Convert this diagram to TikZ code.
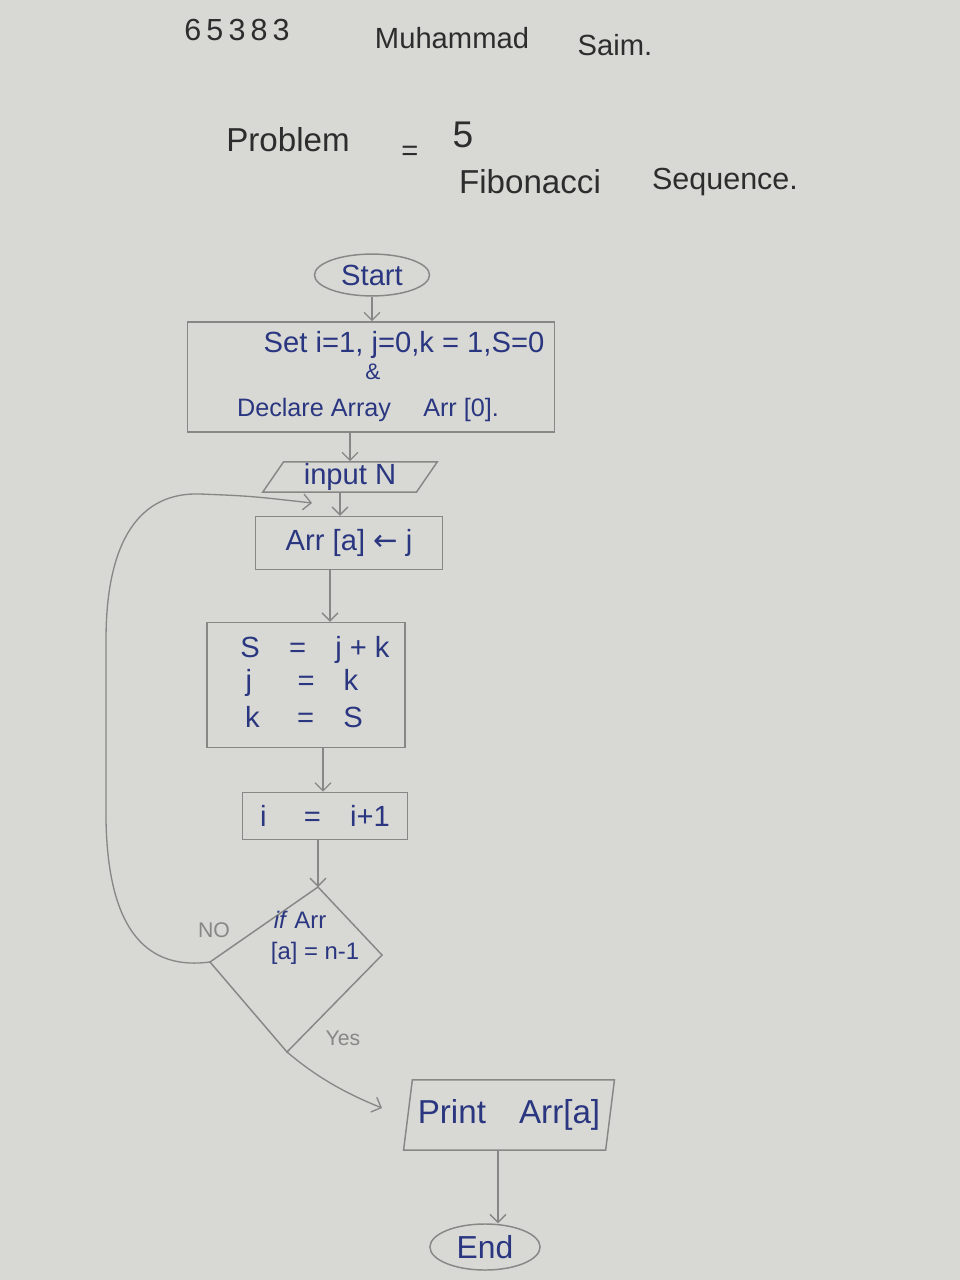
\documentclass[tikz,border=0pt]{standalone}
\usepackage{fontspec}
\setmainfont{Liberation Sans}
\newfontfamily\symfont{DejaVu Sans}
\usetikzlibrary{shapes.geometric,arrows.meta}
\definecolor{paper}{RGB}{216,217,213}
\definecolor{pencil}{RGB}{135,135,133}
\definecolor{ink}{RGB}{42,54,128}
\definecolor{lead}{RGB}{45,45,45}
\tikzset{
  flowtxt/.style={text=ink, font=\fontsize{21}{22}\selectfont, inner sep=0pt},
  flowshape/.style={draw=pencil, line width=1.1pt},
  procbox/.style={flowshape, rectangle, inner sep=0pt},
  termbox/.style={flowshape, ellipse, inner sep=0pt, text=ink, font=\fontsize{22}{24}\selectfont},
  iobox/.style={flowshape, trapezium, trapezium stretches=true, inner sep=0pt, text=ink, font=\fontsize{22}{24}\selectfont},
  conn/.style={draw=pencil, line width=1pt, -{Straight Barb[length=6pt,width=12pt]}},
  headtxt/.style={text=lead, font=\fontsize{22}{24}\selectfont, inner sep=0pt},
  notetxt/.style={text=pencil, font=\fontsize{16}{18}\selectfont, inner sep=0pt}
}
\begin{document}
\begin{tikzpicture}[x=0.0265cm,y=-0.0265cm]
\fill[paper] (0,0) rectangle (960,1280);
\useasboundingbox (0,0) rectangle (960,1280);

% header
\node[headtxt, font=\fontsize{23}{24}\selectfont] (id) at (237,30) {6\,5\,3\,8\,3};
\node[headtxt] (nm1) at (452,38) {Muhammad};
\node[headtxt] (nm2) at (615,45) {Saim.};
\node[headtxt, font=\fontsize{25}{26}\selectfont] (prob) at (288,140) {Problem};
\node[headtxt] (eq) at (410,153) {=};
\node[headtxt, font=\fontsize{28}{30}\selectfont] (five) at (463,135) {5};
\node[headtxt, font=\fontsize{25}{26}\selectfont] (fib) at (530,182) {Fibonacci};
\node[headtxt, font=\fontsize{23}{24}\selectfont] (seq) at (725,182) {Sequence.};

% flowchart shapes
\node[termbox, minimum width=3.05cm, minimum height=1.11cm] (start) at (372,275) {Start};
\node[procbox, minimum width=9.73cm, minimum height=2.92cm] (set) at (371,377) {};
\node[flowtxt, font=\fontsize{22}{24}\selectfont] (setl1) at (404,345) {Set i=1, j=0,k = 1,S=0};
\node[flowtxt, font=\fontsize{17}{18}\selectfont] (setl2) at (373,372) {\&};
\node[flowtxt, font=\fontsize{19}{20}\selectfont] (setl3) at (368,410) {Declare Array\quad\ Arr [0].};
\node[iobox, trapezium left angle=62, trapezium right angle=118, minimum width=4.64cm, minimum height=0.8cm] (inp) at (350,477) {input N};
\node[procbox, minimum width=4.96cm, minimum height=1.40cm, flowtxt, font=\fontsize{22}{24}\selectfont] (arr) at (349,543) {Arr [a] {\symfont ←} j};
\node[procbox, minimum width=5.25cm, minimum height=3.31cm] (sbox) at (306,685) {};
\node[flowtxt, font=\fontsize{22}{24}\selectfont] (s1) at (315,650) {S\quad=\quad j + k};
\node[flowtxt, font=\fontsize{22}{24}\selectfont] (s2) at (302,683) {j\quad\ \ =\quad k};
\node[flowtxt, font=\fontsize{22}{24}\selectfont] (s3) at (304,717) {k\quad\ =\quad S};
\node[procbox, minimum width=4.37cm, minimum height=1.25cm, flowtxt, font=\fontsize{22}{24}\selectfont] (ibox) at (325,816) {i\quad\ =\quad i+1};

% decision
\coordinate (dT) at (318,887);
\coordinate (dR) at (382,955);
\coordinate (dB) at (287,1052);
\coordinate (dL) at (210,962);
\draw[flowshape] (dT) -- (dR) -- (dB) -- (dL) -- cycle;
\node[flowtxt, font=\fontsize{18}{20}\selectfont] (if1) at (300,920) {\textit{if} Arr};
\node[flowtxt, font=\fontsize{18}{20}\selectfont] (if2) at (315,953) {[a] = n-1};
\node[notetxt] (no) at (214,930) {NO};
\node[notetxt] (yes) at (343,1038) {Yes};

\node[iobox, trapezium left angle=75, trapezium right angle=105, minimum width=5.6cm, minimum height=1.86cm, font=\fontsize{25}{26}\selectfont] (prt) at (509,1115) {Print\quad Arr[a]};
\node[termbox, minimum width=2.92cm, minimum height=1.22cm, font=\fontsize{24}{26}\selectfont] (end) at (485,1247) {End};

% connectors
\coordinate (loopEnd) at (312,503);
\coordinate (yesEnd) at (382,1108);
\draw[conn] (start) -- (set.north -| start);
\draw[conn] (set.south -| inp.north) -- (inp.north);
\draw[conn] (inp.south -| 340,0) -- (arr.north -| 340,0);
\draw[conn] (arr.south -| 330,0) -- (sbox.north -| 330,0);
\draw[conn] (sbox.south -| 323,0) -- (ibox.north -| 323,0);
\draw[conn] (ibox.south -| dT) -- (dT);
\draw[conn] (dL) .. controls (150,970) and (108,935) .. (106,820)
  -- (106,640) .. controls (106,540) and (140,492) .. (200,494)
  .. controls (250,496) .. (loopEnd);
\draw[conn] (dB) .. controls (320,1080) and (350,1095) .. (yesEnd);
\draw[conn] (prt.south -| 498,0) -- (end.north -| 498,0);
\end{tikzpicture}
\end{document}
